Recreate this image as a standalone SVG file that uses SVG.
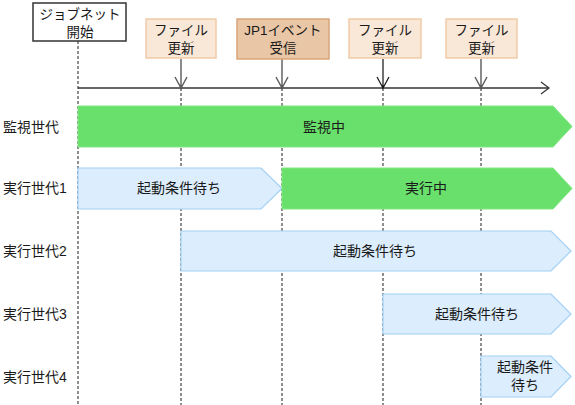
<svg xmlns="http://www.w3.org/2000/svg" width="575" height="405" viewBox="0 0 575 405">
<style>
text{font-family:"Liberation Sans","Noto Sans CJK JP",sans-serif;font-size:13.5px;fill:#1a1a1a;text-anchor:middle;dominant-baseline:central}
.lbl{text-anchor:start}
.bt{font-size:14px}
.file{fill:#f9e7d7;stroke:#f0cba8;stroke-width:1.5}
.jp1{fill:#e9c6a5;stroke:#d8a57a;stroke-width:1.5}
.start{fill:#fff;stroke:#333;stroke-width:1.5}
.green{fill:#68e06b;stroke:#7ee880;stroke-width:1}
.blue{fill:#dcedfd;stroke:#a2d0f4;stroke-width:1.2}
.dash{stroke:#444;stroke-width:1.2;stroke-dasharray:3 2;fill:none}
.arr{stroke:#5a5a5a;stroke-width:1.4;fill:none}
</style>
<g id="gridlines">
<line class="dash" x1="78" y1="41" x2="78" y2="405"/>
<line class="dash" x1="181" y1="88" x2="181" y2="405"/>
<line class="dash" x1="282" y1="88" x2="282" y2="405"/>
<line class="dash" x1="383" y1="88" x2="383" y2="405"/>
<line class="dash" x1="481" y1="88" x2="481" y2="405"/>
</g>
<g id="connectors">
<path d="M78 88H549" stroke="#333" stroke-width="1.4" fill="none"/>
<path d="M541 82L549 88L541 94" stroke="#333" stroke-width="1.2" fill="none"/>
<path class="arr" d="M181 59V88M175 77L181 88L187 77"/>
<path class="arr" d="M282 59V88M276 77L282 88L288 77"/>
<path class="arr" d="M383 59V88M377 77L383 88L389 77" style="stroke:#111;stroke-width:1.2"/>
<path class="arr" d="M481 59V88M475 77L481 88L487 77"/>
</g>
<g id="start"><rect class="start" x="33" y="3" width="93" height="38"/><text x="80" y="14">ジョブネット</text><text x="80" y="32">開始</text></g>
<g id="file1"><rect class="file" x="146" y="19" width="70" height="39"/><text x="181" y="30">ファイル</text><text x="181" y="48">更新</text></g>
<g id="jp1"><rect class="jp1" x="237" y="19" width="92" height="40"/><text x="283" y="30">JP1イベント</text><text x="283" y="48">受信</text></g>
<g id="file2"><rect class="file" x="349" y="19" width="72" height="39"/><text x="385" y="30">ファイル</text><text x="385" y="48">更新</text></g>
<g id="file3"><rect class="file" x="446" y="19" width="71" height="39"/><text x="481.5" y="30">ファイル</text><text x="481.5" y="48">更新</text></g>
<g id="row0"><text class="lbl bt" x="3" y="127">監視世代</text>
<path class="green" d="M78 106H553L572 126.5L553 147H78Z"/><text class="bt" x="324" y="127">監視中</text></g>
<g id="row1"><text class="lbl bt" x="3" y="188">実行世代1</text>
<path class="blue" d="M78 168H261L282 188.5L261 209H78Z"/><text class="bt" x="179" y="188">起動条件待ち</text>
<path class="green" d="M282 168H553L572 188.5L553 209H282Z"/><text class="bt" x="426" y="188">実行中</text></g>
<g id="row2"><text class="lbl bt" x="3" y="251">実行世代2</text>
<path class="blue" d="M181 231H551L571 251L551 271H181Z"/><text class="bt" x="375" y="251">起動条件待ち</text></g>
<g id="row3"><text class="lbl bt" x="3" y="314">実行世代3</text>
<path class="blue" d="M383 294H551L571 314L551 334H383Z"/><text class="bt" x="477" y="314">起動条件待ち</text></g>
<g id="row4"><text class="lbl bt" x="3" y="377">実行世代4</text>
<path class="blue" d="M481 356H551L571 376.5L551 397H481Z"/><text class="bt" x="525" y="367">起動条件</text><text class="bt" x="525" y="385">待ち</text></g>
</svg>
